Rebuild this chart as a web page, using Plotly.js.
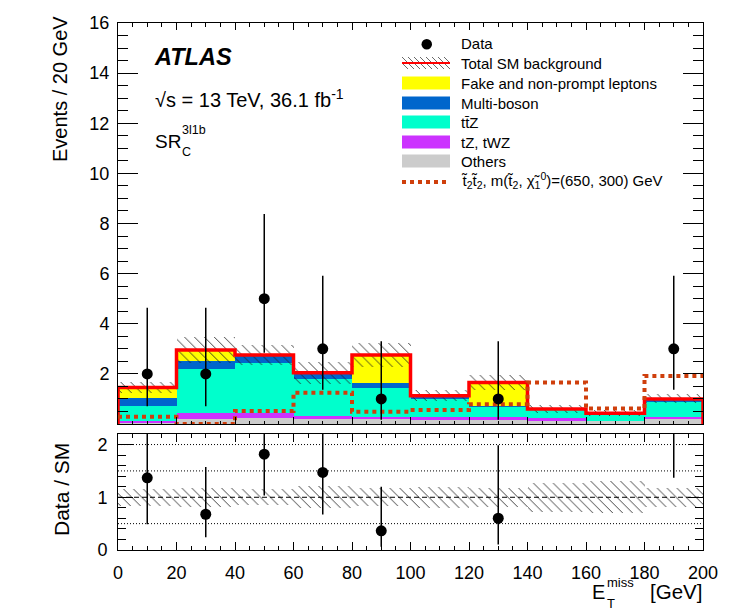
<!DOCTYPE html>
<html>
<head>
<meta charset="utf-8">
<script src="https://cdn.plot.ly/plotly-3.0.1.min.js"></script>
<style>
body { margin: 0; background: #fff; }
#chart { width: 747px; height: 614px; }
</style>
</head>
<body>
<div id="chart"></div>
<script>
// bins of E_T^miss [GeV]
const binEdges = [0, 20, 40, 60, 80, 100, 120, 140, 160, 180, 200];
const binCenters = [10, 30, 50, 70, 90, 110, 130, 150, 170, 190];

// stacked backgrounds, events / 20 GeV (bottom to top)
const others     = [0.06, 0.20, 0.23, 0.20, 0.18, 0.16, 0.16, 0.13, 0.10, 0.19];
const tZtWZ      = [0.06, 0.23, 0.22, 0.12, 0.09, 0.11, 0.11, 0.10, 0.03, 0.08];
const ttZ        = [0.60, 1.75, 1.97, 1.46, 1.15, 0.71, 0.39, 0.35, 0.28, 0.62];
const multiBoson = [0.30, 0.34, 0.33, 0.26, 0.20, 0.13, 0.06, 0.02, 0.02, 0.09];
const fakes      = [0.44, 0.43, 0.00, 0.00, 1.13, 0.02, 0.94, 0.00, 0.00, 0.02];
// relative uncertainty of the total SM background
const relUnc     = [0.16, 0.18, 0.15, 0.21, 0.17, 0.20, 0.18, 0.27, 0.30, 0.18];

// signal t2t2, m(t2, chi1)=(650, 300) GeV
const signal = [0.29, 0.00, 0.52, 1.25, 0.49, 0.56, 0.79, 1.66, 0.62, 1.92];

// observed data with asymmetric errors
const data        = [2, 2, 5, 3, 1, 0, 1, 0, 0, 3];
const dataErrUp   = [2.64, 2.64, 3.38, 2.92, 2.30, 0, 2.30, 0, 0, 2.92];
const dataErrDown = [1.29, 1.29, 2.16, 1.63, 0.83, 0, 0.83, 0, 0, 1.63];

const mainTicks = [2, 4, 6, 8, 10, 12, 14, 16];
const ratioTicks = [0, 1, 2];
const ratioRefDotted = [0.5, 1.5, 2];
const ratioRefDashed = [1];

const colors = {
  others: '#cccccc', tZtWZ: '#cc33ff', ttZ: '#00ffcc',
  multiBoson: '#0066cc', fakes: '#ffff00', total: '#ff0000', signal: '#cf3f0c'
};

// plot area in page pixels (for legend / text placement)
const L = 118, R = 703, T = 23, B = 550;
const px = x => (x - L) / (R - L);
const py = y => (B - y) / (B - T);

const stackSeries = [others, tZtWZ, ttZ, multiBoson, fakes];
const stackColors = [colors.others, colors.tZtWZ, colors.ttZ, colors.multiBoson, colors.fakes];
const total = binCenters.map((_, i) => stackSeries.reduce((s, a) => s + a[i], 0));

const traces = [];
let base = binCenters.map(() => 0);
stackSeries.forEach((vals, k) => {
  traces.push({
    type: 'bar', x: binCenters, y: vals, base: base.slice(), width: 20,
    marker: {color: stackColors[k], line: {width: 0}},
    xaxis: 'x', yaxis: 'y', hoverinfo: 'skip', showlegend: false
  });
  base = base.map((b, i) => b + vals[i]);
});

const hatch = {shape: '\\', fgcolor: '#222', bgcolor: 'rgba(0,0,0,0)', size: 7, solidity: 0.12};

// uncertainty band on the total
traces.push({
  type: 'bar', x: binCenters,
  y: total.map((t, i) => 2 * t * relUnc[i]),
  base: total.map((t, i) => t * (1 - relUnc[i])), width: 20,
  marker: {color: 'rgba(0,0,0,0)', line: {width: 0}, pattern: hatch},
  xaxis: 'x', yaxis: 'y', hoverinfo: 'skip', showlegend: false
});

// total SM outline
traces.push({
  type: 'scatter', mode: 'lines',
  x: [0].concat(binEdges.slice(0, 10), [200, 200]),
  y: [0].concat(total, [total[9], 0]),
  line: {shape: 'hv', color: colors.total, width: 3.5},
  xaxis: 'x', yaxis: 'y', hoverinfo: 'skip', showlegend: false
});

// signal
traces.push({
  type: 'scatter', mode: 'lines',
  x: binEdges, y: signal.concat([signal[9]]),
  line: {shape: 'hv', color: colors.signal, width: 4, dash: '4px,4px'},
  xaxis: 'x', yaxis: 'y', hoverinfo: 'skip', showlegend: false
});

// data
const idx = data.map((d, i) => i).filter(i => data[i] > 0);
traces.push({
  type: 'scatter', mode: 'markers',
  x: idx.map(i => binCenters[i]), y: idx.map(i => data[i]),
  marker: {color: '#000', size: 11},
  error_y: {type: 'data', symmetric: false, array: idx.map(i => dataErrUp[i]),
            arrayminus: idx.map(i => dataErrDown[i]), color: '#000', thickness: 1.5, width: 0},
  xaxis: 'x', yaxis: 'y', hoverinfo: 'skip', showlegend: false
});

// ratio band
traces.push({
  type: 'bar', x: binCenters,
  y: relUnc.map(u => 2 * u), base: relUnc.map(u => 1 - u), width: 20,
  marker: {color: 'rgba(0,0,0,0)', line: {width: 0}, pattern: hatch},
  xaxis: 'x2', yaxis: 'y2', hoverinfo: 'skip', showlegend: false
});

// ratio data / SM
traces.push({
  type: 'scatter', mode: 'markers',
  x: idx.map(i => binCenters[i]), y: idx.map(i => data[i] / total[i]),
  marker: {color: '#000', size: 11},
  error_y: {type: 'data', symmetric: false, array: idx.map(i => dataErrUp[i] / total[i]),
            arrayminus: idx.map(i => dataErrDown[i] / total[i]), color: '#000', thickness: 1.5, width: 0},
  xaxis: 'x2', yaxis: 'y2', hoverinfo: 'skip', showlegend: false
});

const font = 'Liberation Sans, Arial, Helvetica, sans-serif';
const axisCommon = {
  showline: true, linecolor: '#000', linewidth: 1, mirror: 'ticks',
  ticks: 'inside', tickcolor: '#000', showgrid: false, zeroline: false,
  tickfont: {family: font, size: 18, color: '#000'}
};

const shapes = [];
ratioRefDotted.forEach(v => shapes.push({
  type: 'line', xref: 'x2', yref: 'y2', x0: 0, x1: 200, y0: v, y1: v,
  line: {color: '#000', width: 1, dash: '1px,2px'}
}));
ratioRefDashed.forEach(v => shapes.push({
  type: 'line', xref: 'x2', yref: 'y2', x0: 0, x1: 200, y0: v, y1: v,
  line: {color: '#000', width: 1, dash: '5px,3px'}
}));

// legend (drawn by hand, ROOT style)
const legX0 = 402, legX1 = 450, legText = 460;
const legRows = [
  {label: 'Data', y: 44},
  {label: 'Total SM background', y: 63},
  {label: 'Fake and non-prompt leptons', y: 83, fill: colors.fakes},
  {label: 'Multi-boson', y: 103, fill: colors.multiBoson},
  {label: 'tt\u0304Z', y: 122, fill: colors.ttZ},
  {label: 'tZ, tWZ', y: 142, fill: colors.tZtWZ},
  {label: 'Others', y: 161, fill: colors.others},
  {label: 't\u0303<sub>2</sub>t\u0303<sub>2</sub>, m(t\u0303<sub>2</sub>, \u03c7\u0303<sub>1</sub><sup>0</sup>)=(650, 300) GeV', y: 180}
];
legRows.forEach(r => {
  if (r.fill) shapes.push({
    type: 'rect', xref: 'paper', yref: 'paper', x0: px(legX0), x1: px(legX1),
    y0: py(r.y + 6.5), y1: py(r.y - 6.5), fillcolor: r.fill, line: {width: 0}
  });
});
shapes.push({type: 'circle', xref: 'paper', yref: 'paper', x0: px(421.5), x1: px(432),
  y0: py(49.5), y1: py(39), fillcolor: '#000', line: {width: 0}});
for (let s = legX0 - 12; s < legX1; s += 6) {
  let x0 = s, y0 = 57, x1 = s + 12, y1 = 69;
  if (x0 < legX0) { y0 += legX0 - x0; x0 = legX0; }
  if (x1 > legX1) { y1 -= x1 - legX1; x1 = legX1; }
  shapes.push({type: 'line', xref: 'paper', yref: 'paper', x0: px(x0), x1: px(x1),
    y0: py(y0), y1: py(y1), line: {color: '#444', width: 0.8}});
}
shapes.push({type: 'line', xref: 'paper', yref: 'paper', x0: px(legX0), x1: px(legX1),
  y0: py(63), y1: py(63), line: {color: colors.total, width: 2}});
shapes.push({type: 'line', xref: 'paper', yref: 'paper', x0: px(legX0), x1: px(legX1),
  y0: py(182), y1: py(182), line: {color: colors.signal, width: 4, dash: '4px,4px'}});

const ann = (text, x, y, size, extra) => Object.assign({
  text: text, xref: 'paper', yref: 'paper', x: px(x), y: py(y),
  xanchor: 'left', yanchor: 'middle', showarrow: false, borderpad: 0,
  font: {family: font, size: size, color: '#000'}
}, extra || {});

const annotations = legRows.map(r => ann(r.label, legText, r.y, 15));
annotations.push(
  ann('<b><i>ATLAS</i></b>', 153, 57, 23.5),
  ann('\u221as = 13 TeV, 36.1 fb<sup>-1</sup>', 154, 99, 20),
  ann('SR', 154, 141, 19),
  ann('3l1b', 181, 130, 12.5),
  ann('C', 181, 152, 12.5),
  ann('Events / 20 GeV', 60, 15, 20, {textangle: -90, xanchor: 'center', yanchor: 'top'}),
  ann('Data / SM', 61, 490, 21, {textangle: -90, xanchor: 'center'}),
  ann('E', 591, 592, 20),
  ann('miss', 606, 582, 13),
  ann('T', 606, 603, 13),
  ann('[GeV]', 703, 591, 20.5, {xanchor: 'right'})
);

const layout = {
  width: 747, height: 614,
  margin: {l: L, r: 747 - R, t: T, b: 614 - B, pad: 0},
  paper_bgcolor: '#fff', plot_bgcolor: '#fff',
  barmode: 'overlay', bargap: 0,
  showlegend: false,
  xaxis: Object.assign({}, axisCommon, {
    domain: [0, 1], anchor: 'y', range: [0, 200], showticklabels: false,
    dtick: 20, tick0: 0, ticklen: 7,
    minor: {dtick: 5, tick0: 0, ticklen: 3.5, ticks: 'inside', tickcolor: '#000'}
  }),
  yaxis: Object.assign({}, axisCommon, {
    domain: [py(424), 1], anchor: 'x', range: [0, 16],
    tickvals: mainTicks, ticklen: 20, ticklabelstandoff: 4,
    minor: {dtick: 0.5, tick0: 0, ticklen: 10, ticks: 'inside', tickcolor: '#000'}
  }),
  xaxis2: Object.assign({}, axisCommon, {
    domain: [0, 1], anchor: 'y2', range: [0, 200], matches: 'x',
    dtick: 20, tick0: 0, ticklen: 8, ticklabelstandoff: 6,
    minor: {dtick: 5, tick0: 0, ticklen: 4, ticks: 'inside', tickcolor: '#000'}
  }),
  yaxis2: Object.assign({}, axisCommon, {
    domain: [0, py(434)], anchor: 'x2', range: [0, 2.2],
    tickvals: ratioTicks, ticklen: 15, ticklabelstandoff: 6,
    minor: {dtick: 0.2, tick0: 0, ticklen: 8, ticks: 'inside', tickcolor: '#000'}
  }),
  shapes: shapes,
  annotations: annotations
};

Plotly.newPlot('chart', traces, layout, {staticPlot: true});
</script>
</body>
</html>
